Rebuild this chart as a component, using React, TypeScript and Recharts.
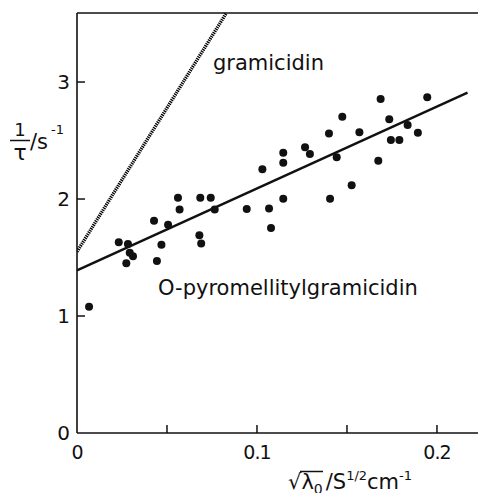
import React from 'react';
import { ComposedChart, Scatter, Line, XAxis, YAxis, ReferenceLine } from 'recharts';

// Measured relaxation rates for O-pyromellitylgramicidin
const pointX = [
  0.0067, 0.0232, 0.0283, 0.0293, 0.0311, 0.0274, 0.0444, 0.0469, 0.0428, 0.0506,
  0.0561, 0.057, 0.068, 0.069, 0.0685, 0.0743, 0.0765, 0.0943, 0.103, 0.1067,
  0.1078, 0.1146, 0.1146, 0.1146, 0.1267, 0.1294, 0.1406, 0.1443, 0.14, 0.1474,
  0.1526, 0.1569, 0.1687, 0.1674, 0.1735, 0.1744, 0.1791, 0.1837, 0.1894, 0.1946,
];
const pointY = [
  1.08, 1.63, 1.615, 1.54, 1.51, 1.45, 1.47, 1.61, 1.815, 1.78,
  2.01, 1.91, 1.69, 1.62, 2.01, 2.01, 1.91, 1.915, 2.254, 1.92,
  1.752, 2.396, 2.31, 2.003, 2.442, 2.385, 2.003, 2.356, 2.561, 2.704,
  2.117, 2.57, 2.855, 2.328, 2.681, 2.504, 2.504, 2.632, 2.567, 2.869,
];

// Regression line through the O-pyromellitylgramicidin data
const fitX = [0, 0.217];
const fitY = [1.39, 2.91];

// Line for unmodified gramicidin
const gramX = [0, 0.083];
const gramY = [1.55, 3.59];

const xTicks = [0, 0.05, 0.1, 0.15, 0.2];
const xTickLabels: Record<string, string> = { '0': '0', '0.1': '0.1', '0.2': '0.2' };
const yTicks = [0, 1, 2, 3];
const yTickLabels: Record<string, string> = { '0': '0', '1': '1', '2': '2', '3': '3' };

const X_MAX = 0.2228;
const Y_MAX = 3.59;

const FONT = "'DejaVu Sans', sans-serif";
const INK = '#111';

const points = pointX.map((x, i) => ({ x, y: pointY[i] }));
const fitLine = fitX.map((x, i) => ({ x, y: fitY[i] }));
const gramLine = gramX.map((x, i) => ({ x, y: gramY[i] }));

const XTick = (props: any) => {
  const { x, y, payload } = props;
  const label = xTickLabels[String(payload.value)];
  return (
    <g>
      {payload.value !== 0 && (
        <line x1={x} x2={x} y1={y} y2={y - 8} stroke={INK} strokeWidth={1.5} />
      )}
      {label && (
        <text x={x} y={y + 26} textAnchor="middle" fontSize={19} fontFamily={FONT} fill={INK} letterSpacing={-1}>
          {label}
        </text>
      )}
    </g>
  );
};

const YTickLeft = (props: any) => {
  const { x, y, payload } = props;
  const label = yTickLabels[String(payload.value)];
  return (
    <g>
      {payload.value !== 0 && (
        <line x1={x} x2={x + 8} y1={y} y2={y} stroke={INK} strokeWidth={1.5} />
      )}
      <text x={x - 7} y={y + 7} textAnchor="end" fontSize={20} fontFamily={FONT} fill={INK}>
        {label}
      </text>
    </g>
  );
};

const YTickRight = (props: any) => {
  const { x, y, payload } = props;
  if (payload.value === 0) return <g />;
  return <line x1={x} x2={x - 8} y1={y} y2={y} stroke={INK} strokeWidth={1.5} />;
};

const Dot = (props: any) => {
  const { cx, cy } = props;
  return <circle cx={cx} cy={cy} r={4} fill={INK} />;
};

export default function App() {
  return (
    <div style={{ position: 'absolute', left: 0, top: 0, width: 478, height: 493, background: '#fff' }}>
      <ComposedChart width={478} height={493} margin={{ top: 13, right: 0, bottom: 0, left: 0 }}>
        <XAxis
          type="number"
          dataKey="x"
          domain={[0, X_MAX]}
          ticks={xTicks}
          allowDataOverflow
          height={60}
          tickSize={0}
          tickMargin={0}
          tickLine={false}
          axisLine={{ stroke: INK, strokeWidth: 1.6 }}
          tick={<XTick />}
          interval={0}
        />
        <YAxis
          type="number"
          dataKey="y"
          domain={[0, Y_MAX]}
          ticks={yTicks}
          allowDataOverflow
          width={77}
          tickSize={0}
          tickMargin={0}
          tickLine={false}
          axisLine={{ stroke: INK, strokeWidth: 1.6 }}
          tick={<YTickLeft />}
          interval={0}
        />
        <YAxis
          yAxisId="right"
          orientation="right"
          type="number"
          domain={[0, Y_MAX]}
          ticks={yTicks}
          width={0}
          tickSize={0}
          tickMargin={0}
          tickLine={false}
          axisLine={false}
          tick={<YTickRight />}
          interval={0}
        />
        {/* top edge of the frame */}
        <ReferenceLine y={Y_MAX} stroke={INK} strokeWidth={1.6} />
        <Line
          data={gramLine}
          dataKey="y"
          type="linear"
          stroke="#000"
          strokeWidth={3.4}
          strokeDasharray="1.3 0.9"
          dot={false}
          activeDot={false}
          isAnimationActive={false}
        />
        <Line
          data={fitLine}
          dataKey="y"
          type="linear"
          stroke={INK}
          strokeWidth={2.4}
          dot={false}
          activeDot={false}
          isAnimationActive={false}
        />
        <Scatter data={points} dataKey="y" shape={<Dot />} isAnimationActive={false} />

        {/* series labels */}
        <text x={213} y={70} fontSize={21} fontFamily={FONT} fill={INK}>gramicidin</text>
        <text x={158} y={295} fontSize={21} fontFamily={FONT} fill={INK}>O-pyromellitylgramicidin</text>

        {/* y-axis title: 1/τ / s^-1 */}
        <g fontFamily={FONT} fill={INK}>
          <text x={20} y={136} fontSize={18} textAnchor="middle">1</text>
          <line x1={10} x2={30} y1={140.5} y2={140.5} stroke={INK} strokeWidth={1.5} />
          <text x={20} y={160} fontSize={22} textAnchor="middle">τ</text>
          <text x={30} y={149} fontSize={21}>/s</text>
          <text x={51} y={134} fontSize={13}>-1</text>
        </g>

        {/* x-axis title: √λ0 / S^1/2 cm^-1 */}
        <g fontFamily={FONT} fill={INK}>
          <text x={288} y={489} fontSize={21}>
            <tspan>√</tspan>
            <tspan>λ</tspan>
            <tspan fontSize={14} dy={5}>0</tspan>
            <tspan dx={3} dy={-5}>/S</tspan>
            <tspan fontSize={13} dy={-9}>1/2</tspan>
            <tspan dy={9}>cm</tspan>
            <tspan fontSize={13} dy={-9}>-1</tspan>
          </text>
          <line x1={300} x2={323} y1={471.5} y2={471.5} stroke={INK} strokeWidth={1.5} />
        </g>
      </ComposedChart>
    </div>
  );
}
